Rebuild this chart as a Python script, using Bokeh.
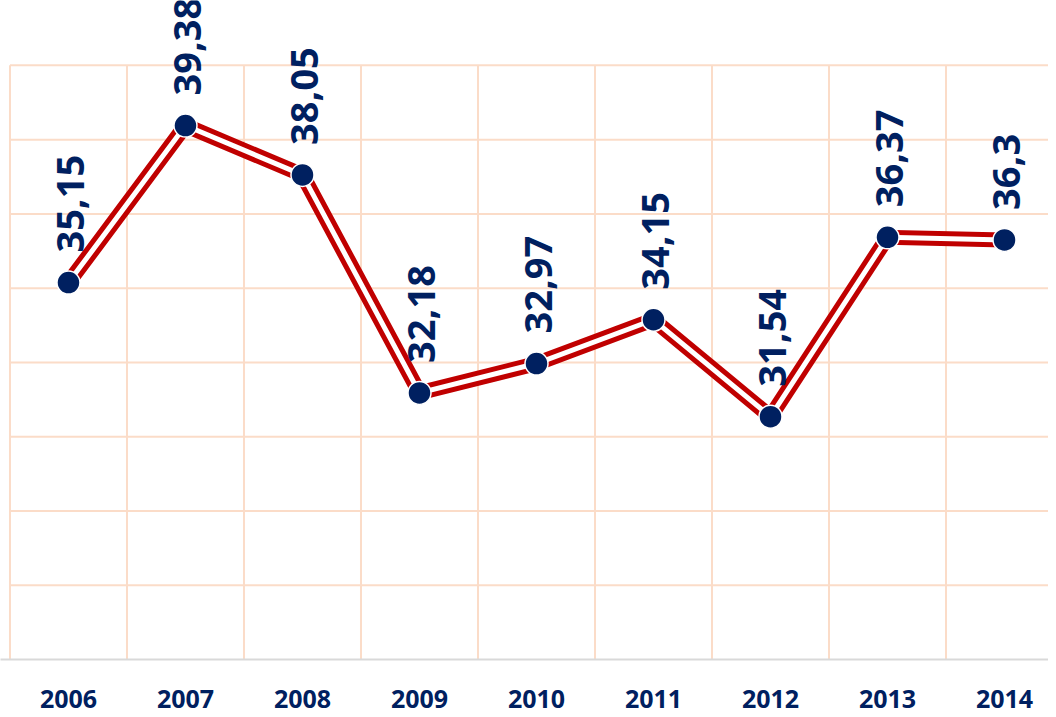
import math
from bokeh.plotting import figure
from bokeh.models import ColumnDataSource, Range1d, FixedTicker
from bokeh.core.properties import value
from bokeh.embed import file_html
from bokeh.resources import INLINE

years = ["2006", "2007", "2008", "2009", "2010", "2011", "2012", "2013", "2014"]
values = [35.15, 39.38, 38.05, 32.18, 32.97, 34.15, 31.54, 36.37, 36.3]
labels = [str(v).replace(".", ",") for v in values]
y_ticks = list(range(25, 42, 2))

NAVY = "#002060"
RED = "#c00000"
GRID = "#fbdcc8"

xs = list(range(len(years)))
src = ColumnDataSource(dict(x=xs, y=values, label=labels))

p = figure(width=1048, height=710, output_backend="svg", toolbar_location=None,
           x_range=Range1d(-0.581, 8.376), y_range=Range1d(25, 42.747),
           y_axis_location=None, min_border=0, min_border_left=0, min_border_right=0,
           min_border_top=0)
p.outline_line_color = None
p.grid.visible = False
p.background_fill_color = "white"

# grid lines (cell boundaries between categories, horizontal every 2)
n = len(years)
bx = [i - 0.5 for i in range(n + 1)]
p.segment(x0=bx, x1=bx, y0=[y_ticks[0]] * len(bx), y1=[y_ticks[-1]] * len(bx),
          line_color=GRID, line_width=2)
hy = y_ticks[1:]
p.segment(x0=[-0.5] * len(hy), x1=[n - 0.5] * len(hy), y0=hy, y1=hy,
          line_color=GRID, line_width=2)

# double line
p.line("x", "y", source=src, line_color=RED, line_width=15, line_join="miter")
p.line("x", "y", source=src, line_color="white", line_width=5, line_join="miter")
p.scatter("x", "y", source=src, size=23, fill_color=NAVY, line_color="white", line_width=1.5)

p.text("x", "y", text="label", source=src, angle=math.pi / 2, text_align="left",
       text_baseline="middle", y_offset=-30, x_offset=2,
       text_font=value("Open Sans"), text_font_style="bold",
       text_font_size="38px", text_color=NAVY)

ax = p.xaxis[0]
ax.ticker = FixedTicker(ticks=xs)
ax.major_label_overrides = {i: y for i, y in enumerate(years)}
ax.major_tick_line_color = None
ax.minor_tick_line_color = None
ax.axis_line_color = "#d9d9d9"
ax.axis_line_width = 2
ax.major_label_standoff = 24
ax.major_label_text_font = "Open Sans"
ax.major_label_text_font_style = "bold"
ax.major_label_text_font_size = "25px"
ax.major_label_text_color = NAVY

open("out.html", "w").write(file_html(p, INLINE))
